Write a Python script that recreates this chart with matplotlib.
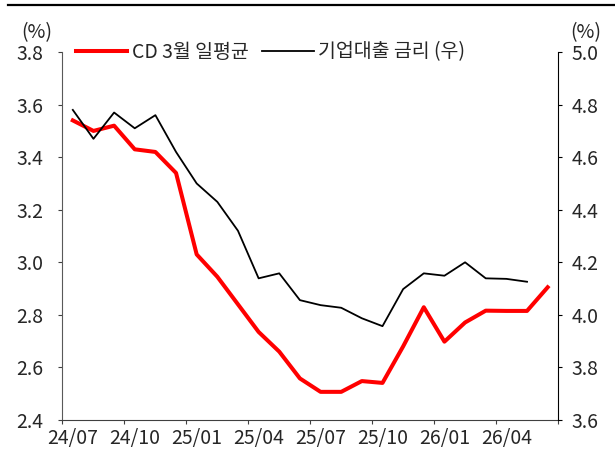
import numpy as np
import matplotlib.pyplot as plt
from matplotlib.lines import Line2D

plt.rcParams['font.family'] = ['Noto Sans CJK KR', 'DejaVu Sans']

# ----------------------------------------------------------------------------
# Dados (mensal, 24/07 ~ 26/06)
# ----------------------------------------------------------------------------
months = ['24/07', '24/08', '24/09', '24/10', '24/11', '24/12',
          '25/01', '25/02', '25/03', '25/04', '25/05', '25/06',
          '25/07', '25/08', '25/09', '25/10', '25/11', '25/12',
          '26/01', '26/02', '26/03', '26/04', '26/05', '26/06']
cd_3m = [3.54, 3.50, 3.52, 3.43, 3.42, 3.34, 3.03, 2.945, 2.84, 2.735, 2.66, 2.558,
         2.507, 2.507, 2.548, 2.541, 2.68, 2.829, 2.698, 2.771, 2.816, 2.815, 2.815, 2.905]
corp_loan = [4.78, 4.67, 4.77, 4.71, 4.76, 4.62, 4.50, 4.43, 4.32, 4.139, 4.158, 4.056,
             4.037, 4.027, 3.987, 3.957, 4.098, 4.158, 4.149, 4.20, 4.139, 4.137, 4.126, np.nan]
xtick_labels = ['24/07', '24/10', '25/01', '25/04', '25/07', '25/10', '26/01', '26/04']

txt_color = '#262626'
fs = 14

fig = plt.figure(figsize=(6.15, 4.55), dpi=100)
ax = fig.add_axes([0.1016, 0.077, 0.8057, 0.8085])
ax2 = ax.twinx()

x = np.arange(len(months)) + 0.5
ax.plot(x, cd_3m, color='#ff0000', lw=2.9, solid_joinstyle='round', zorder=3)
ax2.plot(x, corp_loan, color='black', lw=1.3, zorder=3)

# Eixos
ax.set_xlim(0, len(months))
ax.set_ylim(2.4, 3.8)
ax2.set_ylim(3.6, 5.0)
ax.set_yticks(np.arange(2.4, 3.81, 0.2))
ax2.set_yticks(np.arange(3.6, 5.01, 0.2))
ax.set_yticklabels(['%.1f' % v for v in np.arange(2.4, 3.81, 0.2)])
ax2.set_yticklabels(['%.1f' % v for v in np.arange(3.6, 5.01, 0.2)])

# ticks nas fronteiras das categorias, labels no centro
ax.set_xticks(np.arange(0, len(months) + 1, 3))
ax.set_xticklabels([])
ax.set_xticks(np.arange(0, len(months), 3) + 0.5, minor=True)
ax.set_xticklabels(xtick_labels, minor=True)
ax.tick_params(axis='x', which='minor', length=0, pad=6, labelsize=fs, colors=txt_color)
ax.tick_params(axis='x', which='major', length=3, direction='out', color='#404040')

ax.tick_params(axis='y', length=3, direction='out', pad=11, labelsize=fs,
               colors=txt_color, color='#404040')
ax2.tick_params(axis='y', length=3, direction='out', pad=7, labelsize=fs,
                colors=txt_color, color='black')

for a in (ax, ax2):
    a.spines['top'].set_visible(False)
ax2.spines['left'].set_visible(False)
ax2.spines['bottom'].set_visible(False)
ax.spines['right'].set_visible(False)
ax.spines['left'].set_color('#595959')
ax.spines['bottom'].set_color('#404040')
ax2.spines['right'].set_color('black')

# unidades
fig.text(37 / 615, 1 - 33 / 455, '(%)', ha='center', va='center', fontsize=fs, color=txt_color)
fig.text(586 / 615, 1 - 33 / 455, '(%)', ha='center', va='center', fontsize=fs, color=txt_color)

# linha do topo
fig.add_artist(Line2D([8 / 615, 1.0], [1 - 5 / 455, 1 - 5 / 455], color='black', lw=1.6))

# Legenda
handles = [Line2D([], [], color='#ff0000', lw=2.9), Line2D([], [], color='black', lw=1.3)]
ax2.legend(handles, ['CD 3월 일평균', '기업대출 금리 (우)'], loc='center left',
           bbox_to_anchor=(0.027, 1.0), ncol=2, frameon=False, fontsize=fs,
           handlelength=2.65, handletextpad=0.25, columnspacing=0.67, borderpad=0,
           borderaxespad=0, labelcolor=txt_color)

fig.savefig('out.png', dpi=100)
